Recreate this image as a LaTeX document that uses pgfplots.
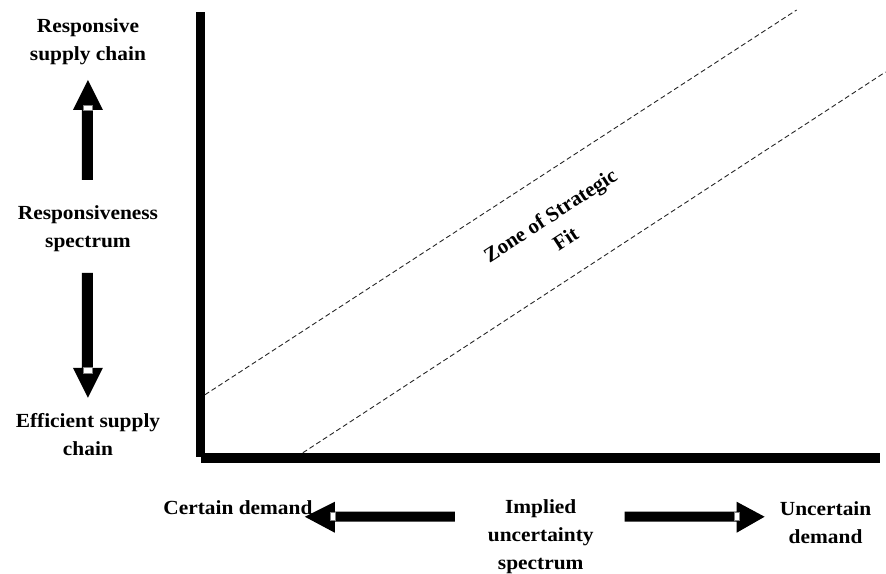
\documentclass[border=0pt]{standalone}
\usepackage{pgfplots}
\pgfplotsset{compat=1.18}
\usepackage{fontspec}
\setmainfont{Liberation Serif}
\tikzset{lbl/.style={font=\fontsize{20}{28}\selectfont\bfseries, align=center, inner sep=0pt, xscale=1.07}}

\begin{document}
\begin{tikzpicture}[x=1pt,y=1pt]
\begin{axis}[
    scale only axis, width=886pt, height=573pt,
    xmin=0, xmax=886, ymin=0, ymax=573, y dir=reverse,
    hide axis, clip=false]
% full canvas, so the page matches the reference
\path (axis cs:0,0) rectangle (axis cs:886,573);
% axes as thick bars
\addplot[fill=black, draw=none] coordinates {(196,12)(205,12)(205,457)(196,457)} --cycle;
\addplot[fill=black, draw=none] coordinates {(201,453)(880,453)(880,463)(201,463)} --cycle;
% zone of strategic fit
\addplot[gray!30!black, line width=0.9pt, dash pattern=on 5pt off 3pt] coordinates {(205,395)(797,10)};
\addplot[gray!30!black, line width=0.9pt, dash pattern=on 5pt off 3pt] coordinates {(303,453)(886,72)};
% arrows
\addplot[fill=black, draw=none] coordinates {(82,180)(93,180)(93,110)(103,110)(88,80)(73,110)(82,110)} --cycle;
\addplot[fill=white, draw=gray, line width=0.6pt] coordinates {(83,105)(92,105)(92,110)(83,110)} --cycle;
\addplot[fill=black, draw=none] coordinates {(82,273)(93,273)(93,368)(103,368)(88,398)(73,368)(82,368)} --cycle;
\addplot[fill=white, draw=gray, line width=0.6pt] coordinates {(83,367)(92,367)(92,373)(83,373)} --cycle;
\addplot[fill=black, draw=none] coordinates {(455,512)(455,522)(335,522)(335,533)(305,517)(335,502)(335,512)} --cycle;
\addplot[fill=white, draw=gray, line width=0.6pt] coordinates {(330,513)(335,513)(335,521)(330,521)} --cycle;
\addplot[fill=black, draw=none] coordinates {(625,512)(625,522)(737,522)(737,533)(765,517)(737,502)(737,512)} --cycle;
\addplot[fill=white, draw=gray, line width=0.6pt] coordinates {(735,513)(740,513)(740,521)(735,521)} --cycle;
% labels
\node[lbl] at (axis cs:88,42) {Responsive\\supply chain};
\node[lbl] at (axis cs:88,229) {Responsiveness\\spectrum};
\node[lbl] at (axis cs:88,435) {Efficient supply\\chain};
\node[lbl] at (axis cs:238,508) {Certain demand};
\node[lbl] at (axis cs:541,537) {Implied\\uncertainty\\spectrum};
\node[lbl] at (axis cs:826,523) {Uncertain\\demand};
\node[font=\fontsize{21}{28}\selectfont\bfseries, align=center, inner sep=0pt, rotate=33] at (axis cs:558,227) {Zone of Strategic\\Fit};
\end{axis}
\end{tikzpicture}
\end{document}
